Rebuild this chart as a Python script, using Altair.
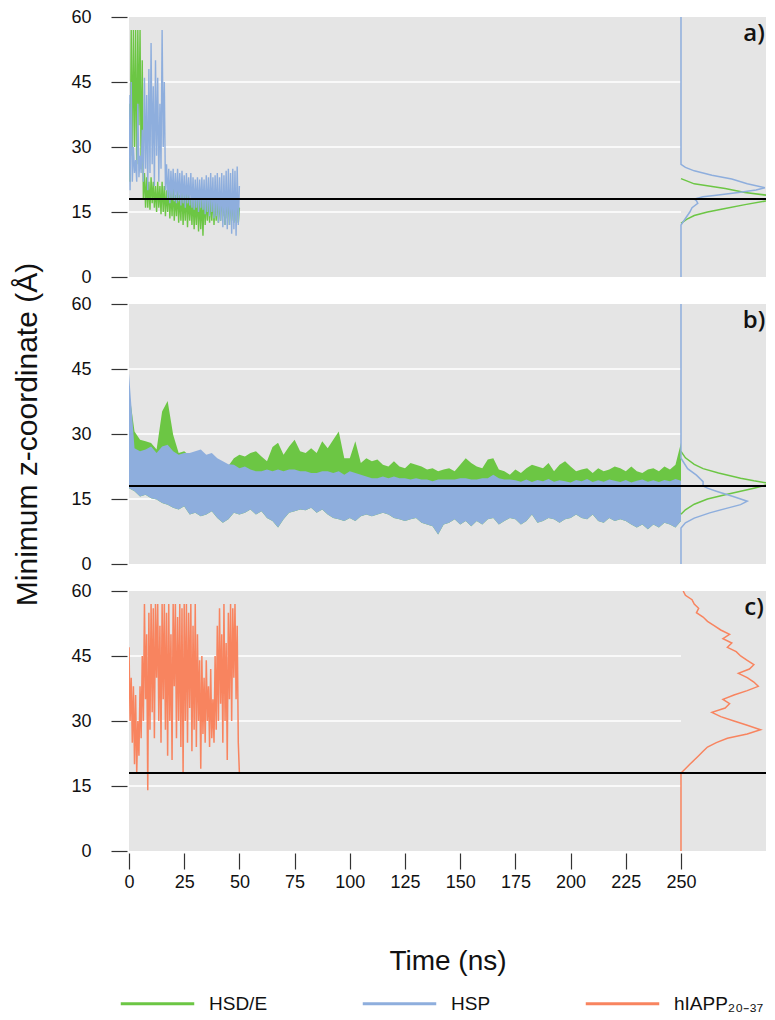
import altair as alt
import pandas as pd

GREEN = "#6cc644"
BLUE = "#8eaedd"
RED = "#f8845f"
SERIES = ["HSD/E", "HSP", "hIAPP₂₀₋₃₇"]
DIST_BASE = 250
X_MAX = 288.5

# ---------- panel a : traces sampled every 0.5 ns ----------
a_time = [i * 0.5 for i in range(101)]
a_green = [40, 22, 57, 28, 57, 30, 57, 26, 57, 35,
           57, 25, 50, 18, 24, 16, 23, 16, 22, 15.5,
           23, 17, 22, 16, 21, 15, 22, 16, 21, 14.5,
           22, 15, 21, 14, 20, 15, 21, 13.5, 20, 14,
           21, 13, 19, 14, 20, 12.5, 19, 13, 20, 12,
           19, 13, 20, 11.5, 19, 13, 18, 12, 19, 11,
           18, 12, 19, 10.5, 18, 11, 18, 9.5, 19, 12,
           18, 13, 19, 12.5, 18, 13, 19, 12, 18, 13,
           19, 12.5, 18, 13, 19, 14, 18, 12, 19, 13.5,
           18, 12, 19, 13, 18, 12.5, 20, 13, 19, 12.5,
           16]
a_blue = [42, 20, 45, 22, 30, 24, 27, 22, 40, 23,
          28, 24, 34, 22, 46, 25, 42, 20, 48, 24,
          54, 26, 44, 21, 50, 28, 46, 22, 40, 25,
          57, 30, 45, 20, 26, 18, 25, 17, 24.5, 18,
          25, 17.5, 24, 17, 25, 17.5, 24, 16.5, 24.5, 17,
          23.5, 16, 24, 17, 23, 16.5, 24, 16, 23, 15.5,
          22.5, 16, 23, 15, 22.5, 16, 23, 15.5, 22.5, 14.5,
          23.5, 15, 23, 14, 24, 15, 23, 13.5, 23.5, 14,
          24, 12.5, 23, 13, 24, 11.5, 23.5, 12, 24.5, 11,
          25, 12, 24, 10, 25, 11, 24.5, 9.5, 25.5, 12,
          21]

# ---------- panel b : envelopes sampled every 2.5 ns ----------
b_time = [i * 2.5 for i in range(101)]
b_green_hi = [40, 30.6, 28.7, 28.3, 27.9, 26.4, 35.2, 37.6, 29.8, 25.6,
              26.0, 25.0, 25.5, 25.8, 24.8, 25.3, 24.0, 23.5, 22.6, 24.4,
              25.2, 24.8, 25.6, 26.0, 24.8, 23.7, 27.0, 28.0, 25.2, 27.1,
              28.7, 26.0, 25.6, 26.7, 25.6, 28.3, 26.7, 28.7, 30.6, 24.4,
              24.4, 28.3, 23.3, 24.4, 23.7, 24.1, 22.9, 22.5, 23.7, 22.5,
              22.1, 23.3, 22.9, 22.5, 21.8, 22.1, 21.4, 21.8, 22.1, 21.4,
              22.9, 24.4, 23.3, 22.5, 22.1, 24.1, 24.4, 21.8, 21.4, 20.6,
              21.8, 21.0, 22.1, 22.9, 22.5, 22.1, 23.3, 21.4, 22.9, 23.7,
              22.5, 21.4, 21.8, 22.1, 21.0, 22.1, 21.4, 21.8, 22.5, 22.1,
              21.4, 22.5, 21.4, 21.0, 21.8, 22.1, 21.4, 22.5, 21.8, 22.9,
              28.0]
b_blue_hi = [44, 26.7, 26.0, 26.4, 27.1, 25.6, 27.1, 27.5, 26.0, 25.2,
             25.6, 25.6, 26.0, 26.4, 25.2, 25.6, 24.4, 23.7, 23.0, 22.9,
             22.1, 22.5, 21.8, 21.4, 21.4, 21.8, 21.4, 21.8, 21.4, 21.8,
             21.8, 21.4, 21.4, 21.0, 21.0, 21.4, 21.4, 21.0, 21.4, 20.6,
             21.4, 21.0, 20.6, 20.2, 19.8, 19.8, 20.2, 19.8, 20.2, 19.8,
             19.8, 19.5, 19.8, 19.5, 19.5, 19.1, 19.5, 19.5, 19.5, 19.5,
             19.8, 19.8, 19.5, 19.5, 19.8, 19.8, 20.6, 19.8, 19.5, 19.5,
             19.3, 19.0, 19.5, 18.9, 19.4, 19.1, 19.6, 19.0, 19.3, 19.1,
             18.8, 19.4, 19.1, 19.6, 18.9, 19.3, 19.0, 19.5, 19.2, 18.9,
             19.4, 18.8, 19.2, 19.5, 19.0, 19.3, 18.9, 19.4, 19.1, 19.6,
             19.2]
b_blue_lo = [17.5, 16.8, 15.6, 16.0, 15.2, 14.9, 14.1, 13.7, 13.0, 12.6,
             13.3, 11.4, 11.8, 11.0, 11.4, 12.2, 10.6, 9.5, 10.3, 11.8,
             11.4, 11.8, 12.6, 11.4, 12.2, 10.6, 9.9, 8.4, 10.3, 11.8,
             12.2, 12.6, 12.4, 13.0, 11.8, 12.6, 11.4, 10.6, 10.3, 9.9,
             10.6, 9.9, 11.0, 11.4, 11.0, 11.4, 11.8, 11.4, 10.6, 10.3,
             9.9, 10.3, 10.6, 9.5, 9.1, 8.7, 6.8, 9.1, 9.5, 10.3,
             9.1, 9.9, 8.7, 9.9, 9.1, 10.3, 10.6, 9.1, 9.9, 10.6,
             10.3, 9.1, 9.9, 11.4, 9.5, 9.9, 10.6, 10.3, 9.5, 10.3,
             10.6, 11.4, 10.6, 10.3, 11.4, 9.9, 9.5, 10.6, 9.9, 10.3,
             9.9, 9.1, 8.4, 9.1, 8.0, 9.1, 8.4, 9.5, 9.1, 8.4,
             9.9]

# ---------- panel c : trace sampled every 0.5 ns ----------
c_time = [i * 0.5 for i in range(101)]
c_red = [47, 30, 40, 25, 38, 20, 36, 18, 30, 22,
         38, 26, 45, 30, 57, 35, 50, 14, 55, 28,
         57, 32, 56, 26, 57, 40, 57, 30, 52, 25,
         57, 35, 57, 28, 55, 22, 57, 30, 50, 21,
         57, 38, 57, 26, 54, 30, 57, 24, 56, 18,
         57, 30, 57, 25, 55, 33, 57, 23, 52, 28,
         57, 24, 50, 30, 44, 19, 45, 27, 40, 25,
         44, 30, 38, 24, 42, 26, 35, 25, 45, 28,
         52, 30, 56, 34, 50, 25, 57, 30, 48, 21,
         55, 35, 57, 30, 56, 40, 57, 35, 52, 25,
         18]

# ---------- distributions (z value, height in ns units right of 250) ----------
a_green_z = [12.4, 13.3, 14.2, 15.0, 15.8, 16.7, 17.6, 18.2, 18.8, 19.5, 20.4, 21.5, 22.7]
a_green_d = [0, 2.5, 6, 12, 20, 29, 39, 45, 40, 29, 20, 6, 0]
a_blue_z = [0, 12, 13.5, 15, 16, 17, 17.6, 18, 18.5, 18.8, 19.5, 20.1, 20.6, 21.5, 22.6, 23.5, 24.5, 25.3, 26, 60]
a_blue_d = [0, 0, 2, 4, 5, 7.6, 7, 6, 10, 15, 26, 34, 38, 30, 23, 14, 6, 2, 0, 0]
b_green_z = [11.5, 12.5, 13.8, 15, 16, 16.8, 17.5, 18, 18.6, 19.2, 19.8, 21, 22, 23, 24.5, 26]
b_green_d = [0, 2, 6, 12, 20, 27, 33, 37, 40, 33, 27, 17, 10, 6, 2, 0]
b_blue_z = [0, 8.3, 9.5, 10.6, 11.8, 12.9, 13.7, 14.5, 15.5, 16.8, 17.5, 18, 19, 20.5, 22, 24.4, 60]
b_blue_d = [0, 0, 2, 6, 13, 21, 27, 30, 24, 16, 12, 10, 10, 7, 3, 0, 0]
c_red_z = [0, 17, 18, 19, 20, 21, 22, 23, 24, 25, 26, 27, 28, 29, 30, 31, 32, 33, 34, 35,
           36, 37, 38, 39, 40, 41, 42, 43, 44, 45, 46, 47, 48, 49, 50, 51, 52, 53,
           54, 55, 56, 57, 58, 59, 60]
c_red_d = [0, 0, 0, 2, 4, 6, 8, 10, 12, 16, 21, 30, 36, 30, 24, 18, 14, 20, 22, 19,
           24, 30, 35, 33, 30, 26, 31, 33, 30, 27, 25, 21, 23, 19, 22, 18, 15, 12,
           10, 7, 8, 6, 5, 2, 1]

grid_y = [15, 30, 45]
membrane_z = [18]
y_ticks = [0, 15, 30, 45, 60]
x_ticks = [0, 25, 50, 75, 100, 125, 150, 175, 200, 225, 250]

assert all(len(v) == 101 for v in [a_green, a_blue, b_green_hi, b_blue_hi, b_blue_lo, c_red])

W, H = 637, 260
X_SCALE = alt.Scale(domain=[0, X_MAX], nice=False, zero=False)
Y_SCALE = alt.Scale(domain=[0, 60], nice=False, zero=False)
COLOR_SCALE = alt.Scale(domain=SERIES, range=[GREEN, BLUE, RED])
Y_TITLE = "Minimum z-coordinate (Å)"

LEGEND = alt.Legend(orient="none", legendX=-10, legendY=948, direction="horizontal",
                    title=None, symbolType="stroke", symbolSize=5400,
                    symbolStrokeWidth=3, labelFontSize=19, labelOffset=13,
                    columnPadding=88, labelLimit=300, labelColor="#111")


def make_y_axis(with_title):
    kw = dict(values=y_ticks, grid=False, domain=False, tickSize=16, offset=2,
              tickColor="#333", tickWidth=1.2, labelFontSize=18, labelColor="#111",
              labelPadding=20)
    if with_title:
        kw.update(title=Y_TITLE, titleFontSize=30, titleFontWeight="normal",
                  titleColor="#111", titlePadding=28)
    else:
        kw.update(title="")
    return alt.Axis(**kw)


def make_x_axis():
    return alt.Axis(values=x_ticks, grid=False, domain=False, tickSize=16, offset=2,
                    tickColor="#333", tickWidth=1.2, labelFontSize=18, labelColor="#111",
                    labelPadding=4, labelFlush=False, title="Time (ns)", titleFontSize=28,
                    titleFontWeight="normal", titleColor="#111", titlePadding=56)


def build_panel(label, with_title, bottom, traces, bands, dists):
    yax = make_y_axis(with_title)
    xax = make_x_axis() if bottom else None

    def X(field):
        if xax is None:
            return alt.X(field, scale=X_SCALE, axis=None)
        return alt.X(field, scale=X_SCALE, axis=xax)

    def Y(field):
        return alt.Y(field, scale=Y_SCALE, axis=yax)

    layers = []
    gdf = pd.DataFrame({"g": grid_y, "x0": [0] * len(grid_y), "x1": [DIST_BASE] * len(grid_y)})
    layers.append(alt.Chart(gdf).mark_rule(color="white", strokeWidth=1.6).encode(
        x=X("x0:Q"), x2="x1:Q", y=Y("g:Q")))

    for times, hi, lo, color in bands:
        df = pd.DataFrame({"t": times, "hi": hi, "lo": lo})
        layers.append(alt.Chart(df).mark_area(color=color, clip=True).encode(
            x=X("t:Q"), y=Y("hi:Q"), y2="lo:Q"))

    for times, values, color, series, width in traces:
        df = pd.DataFrame({"t": times, "z": values, "series": series or ""})
        enc = dict(x=X("t:Q"), y=Y("z:Q"))
        if series:
            enc["color"] = alt.Color("series:N", scale=COLOR_SCALE, legend=LEGEND)
        else:
            enc["stroke"] = alt.value(color)
        layers.append(alt.Chart(df).mark_line(strokeWidth=width, clip=True).encode(**enc))

    for zs, ds, color in dists:
        df = pd.DataFrame({"z": zs, "x": [DIST_BASE + d for d in ds], "k": list(range(len(zs)))})
        layers.append(alt.Chart(df).mark_line(color=color, strokeWidth=1.5, clip=True).encode(
            x=X("x:Q"), y=Y("z:Q"), order="k:Q"))

    mdf = pd.DataFrame({"m": membrane_z})
    layers.append(alt.Chart(mdf).mark_rule(color="black", strokeWidth=2).encode(y=Y("m:Q")))

    ldf = pd.DataFrame({"lab": [label]})
    layers.append(alt.Chart(ldf).mark_text(font="Open Sans", fontSize=24, fontWeight=600,
                                           color="#111", align="center", baseline="middle").encode(
        x=alt.value(W - 12), y=alt.value(17), text="lab:N"))

    return alt.layer(*layers).properties(width=W, height=H)


panel_a = build_panel(
    "a)", False, False,
    traces=[(a_time, a_green, GREEN, SERIES[0], 1.4), (a_time, a_blue, BLUE, SERIES[1], 1.4)],
    bands=[],
    dists=[(a_green_z, a_green_d, GREEN), (a_blue_z, a_blue_d, BLUE)])

panel_b = build_panel(
    "b)", True, False,
    traces=[],
    bands=[(b_time, b_green_hi, b_blue_lo, GREEN), (b_time, b_blue_hi, b_blue_lo, BLUE)],
    dists=[(b_green_z, b_green_d, GREEN), (b_blue_z, b_blue_d, BLUE)])

panel_c = build_panel(
    "c)", False, True,
    traces=[(c_time, c_red, RED, None, 1.5)],
    bands=[],
    dists=[(c_red_z, c_red_d, RED)])

chart = alt.vconcat(panel_a, panel_b, panel_c, spacing=27, bounds="flush").configure(
    font="Liberation Sans", padding={"left": 4, "top": 0, "right": 0, "bottom": 0}
).configure_view(fill="#e5e5e5", strokeWidth=0)

chart.save("out.html", embed_options={"renderer": "svg", "actions": False})
